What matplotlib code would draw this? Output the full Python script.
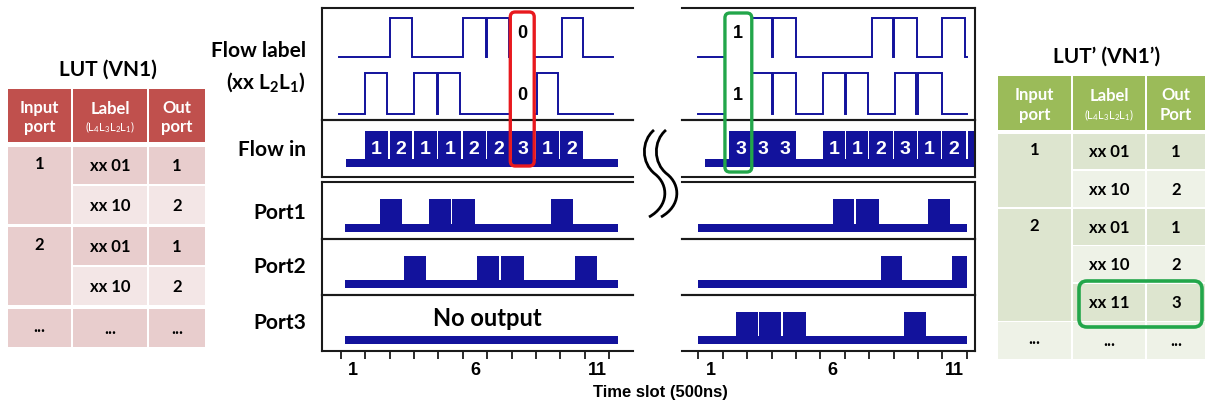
import numpy as np
import matplotlib
matplotlib.use("Agg")
import matplotlib.pyplot as plt
from matplotlib.patches import Rectangle, FancyBboxPatch, PathPatch
from matplotlib.path import Path

plt.rcParams['mathtext.fontset'] = 'custom'
plt.rcParams['mathtext.rm'] = 'Lato'
plt.rcParams['mathtext.bf'] = 'Lato:bold'
plt.rcParams['mathtext.it'] = 'Lato:italic'

W, H = 1205, 406
NAVY = "#12129c"
LABEL_FONT = "Lato"
AX_FONT = "Liberation Sans"

# ---------------- data ----------------
slot_labels = [1, 6, 11]
slot_edges = [0.5, 1.5, 2.5, 3.5, 4.5, 5.5, 6.5, 7.5, 8.5, 9.5, 10.5, 11.5]

# flow in (packet start slot, width, label)
left_packet_start = [1.5, 2.5, 3.5, 4.5, 5.5, 6.5, 7.5, 8.5, 9.5]
left_packet_width = [0.94, 0.94, 0.94, 0.94, 0.94, 0.94, 0.94, 0.94, 0.94]
left_packet_label = ["1", "2", "1", "1", "2", "2", "3", "1", "2"]
right_packet_start = [1.77, 2.72, 3.62, 5.6, 6.55, 7.5, 8.5, 9.5, 10.5, 11.55]
right_packet_width = [0.92, 0.87, 0.88, 0.92, 0.92, 0.96, 0.96, 0.96, 0.96, 0.25]
right_packet_label = ["3", "3", "3", "1", "1", "2", "3", "1", "2", ""]

# flow label bits: intervals where the trace is high
left_L2_high = [(2.5, 3.4), (5.5, 6.45), (6.5, 7.4), (9.55, 10.42)]
left_L1_high = [(1.5, 2.4), (3.5, 4.45), (4.5, 5.4), (8.55, 9.42)]
right_L2_high = [(1.72, 2.65), (2.7, 3.52), (3.57, 4.52), (7.6, 8.47), (8.52, 9.48), (10.5, 11.45)]
right_L1_high = [(1.72, 2.65), (2.7, 3.5), (3.55, 4.52), (5.6, 6.5), (6.55, 7.46),
                 (8.56, 9.44), (9.49, 10.47)]

# output ports: (start, end) of received packets
left_port1 = [(2.1, 3.0), (4.1, 5.0), (5.05, 6.0), (9.1, 10.0)]
left_port2 = [(3.1, 4.0), (6.1, 7.0), (7.05, 8.0), (10.1, 11.0)]
left_port3 = []
right_port1 = [(6.0, 6.9), (6.95, 7.9), (9.93, 10.8)]
right_port2 = [(7.97, 8.84), (10.9, 11.5)]
right_port3 = [(2.05, 2.93), (3.0, 3.9), (3.98, 4.9), (8.94, 9.83)]

# look-up tables
lut_left_title = "LUT (VN1)"
lut_left_in = [(0, 2, "1"), (2, 4, "2"), (4, 5, "...")]
lut_left_label = ["xx 01", "xx 10", "xx 01", "xx 10", "..."]
lut_left_out = ["1", "2", "1", "2", "..."]
lut_left_head = ["Input\nport", "Label", "Out\nport"]

lut_right_title = "LUT\u2019 (VN1\u2019)"
lut_right_in = [(0, 2, "1"), (2, 5, "2"), (5, 6, "...")]
lut_right_label = ["xx 01", "xx 10", "xx 01", "xx 10", "xx 11", "..."]
lut_right_out = ["1", "2", "1", "2", "3", "..."]
lut_right_head = ["Input\nport", "Label", "Out\nPort"]

# ---------------- figure ----------------
fig = plt.figure(figsize=(W / 100, H / 100), dpi=100)


def add_px_axes(x0, y0, x1, y1):
    return fig.add_axes([x0 / W, 1 - y1 / H, (x1 - x0) / W, (y1 - y0) / H])


panel_rows = [(9, 121), (121, 178), (183, 240), (240, 296), (296, 352)]


def make_column(xpx, xlim, open_side):
    axs = []
    for y0, y1 in panel_rows:
        ax = add_px_axes(xpx[0], y0, xpx[1], y1)
        ax.set_xlim(*xlim)
        ax.set_ylim(0, 1)
        ax.patch.set_alpha(0)
        for s in ax.spines.values():
            s.set_linewidth(1.5)
            s.set_color("#1a1a1a")
        ax.spines[open_side].set_visible(False)
        ax.set_xticks([])
        ax.set_yticks([])
        axs.append(ax)
    return axs


axL = make_column((322, 633), (-0.27, 12.48), "right")
axR = make_column((682, 975), (-0.17, 11.84), "left")


def draw_label_trace(ax, span, highs, low, high):
    xs, ys = [span[0]], [low]
    for a, b in highs:
        xs += [a, a, b, b]
        ys += [low, high, high, low]
    xs.append(span[1])
    ys.append(low)
    ax.plot(xs, ys, color=NAVY, lw=1.4, solid_joinstyle="miter")


def draw_packets(ax, span, blocks, base, body):
    ax.broken_barh([(span[0], span[1] - span[0])], base, color=NAVY, lw=0, zorder=3)
    if blocks:
        ax.broken_barh([(a, b - a) for a, b in blocks], body, color=NAVY, lw=0, zorder=2)


def draw_flow_in(ax, span, starts, widths, labels):
    blocks = [(s, s + w) for s, w in zip(starts, widths)]
    draw_packets(ax, span, blocks, (0.17, 0.15), (0.2, 0.61))
    for s, w, lab in zip(starts, widths, labels):
        ax.text(s + w / 2, 0.5, lab, color="white", fontsize=14, fontweight="bold",
                family=AX_FONT, ha="center", va="center", zorder=4)


# left column
draw_label_trace(axL[0], (0.43, 11.66), left_L2_high, 0.56, 0.91)
draw_label_trace(axL[0], (0.43, 11.66), left_L1_high, 0.055, 0.42)
draw_flow_in(axL[1], (0.7, 11.85), left_packet_start, left_packet_width, left_packet_label)
for ax, blocks in zip(axL[2:], [left_port1, left_port2, left_port3]):
    draw_packets(ax, (0.67, 11.86), blocks, (0.12, 0.14), (0.15, 0.55))
axL[4].text(0.53, 0.6, "No output", transform=axL[4].transAxes, fontsize=17,
            fontweight="bold", family=LABEL_FONT, ha="center", va="center")

# right column
draw_label_trace(axR[0], (0.5, 11.53), right_L2_high, 0.56, 0.91)
draw_label_trace(axR[0], (0.5, 11.53), right_L1_high, 0.055, 0.42)
draw_flow_in(axR[1], (0.77, 11.8), right_packet_start, right_packet_width, right_packet_label)
for ax, blocks in zip(axR[2:], [right_port1, right_port2, right_port3]):
    draw_packets(ax, (0.5, 11.53), blocks, (0.12, 0.14), (0.15, 0.55))

for ax in (axL[4], axR[4]):
    ax.set_xticks(slot_edges)
    ax.set_xticklabels([])
    ax.tick_params(axis="x", which="major", direction="out", length=6, width=1.3, color="#1a1a1a")
    ax.set_xticks(slot_labels, minor=True)
    ax.set_xticklabels([str(v) for v in slot_labels], minor=True)
    ax.tick_params(axis="x", which="minor", length=0, pad=7, labelsize=13)
    for t in ax.get_xticklabels(minor=True):
        t.set_fontweight("bold")
        t.set_family(AX_FONT)

fig.text(660 / W, 1 - 393 / H, "Time slot (500ns)", fontsize=12, fontweight="bold",
         family=AX_FONT, ha="center", va="center")

# row labels
row_text = [("Flow label", 51), ("(xx L$_\\mathbf{2}$L$_\\mathbf{1}$)", 82), ("Flow in", 150),
            ("Port1", 213), ("Port2", 267), ("Port3", 323)]
for txt, ypx in row_text:
    fig.text(306 / W, 1 - ypx / H, txt, fontsize=15, fontweight="bold", family=LABEL_FONT,
             ha="right", va="center")

# ---------------- overlay (pixel coordinates) ----------------
ov = fig.add_axes([0, 0, 1, 1])
ov.set_xlim(0, W)
ov.set_ylim(H, 0)
ov.axis("off")
ov.patch.set_alpha(0)


def slot_px(ax, slot):
    return ax.transData.transform((slot, 0))[0]


def highlight(ax, s0, s1, y0, y1, color, bits):
    x0, x1 = slot_px(ax, s0), slot_px(ax, s1)
    ov.add_patch(Rectangle((x0, y0), x1 - x0, 119 - y0, facecolor="white", lw=0))
    for b, ypx in zip(bits, (34, 95)):
        ov.text((x0 + x1) / 2, ypx, b, fontsize=13, fontweight="bold", family=AX_FONT,
                ha="center", va="center")
    ov.add_patch(FancyBboxPatch((x0, y0), x1 - x0, y1 - y0,
                                boxstyle="round,pad=0,rounding_size=5",
                                fill=False, edgecolor=color, lw=2.4))


highlight(axL[0], 7.45, 8.43, 13, 167, "#e8191e", ["0", "0"])
highlight(axR[0], 1.59, 2.69, 14, 173, "#22a64a", ["1", "1"])

# axis break mark
for dx in (0, 12):
    verts = [(654 + dx, 131), (641 + dx, 142), (641 + dx, 164), (655 + dx, 175),
             (669 + dx, 186), (669 + dx, 207), (649 + dx, 218)]
    codes = [Path.MOVETO] + [Path.CURVE4] * 6
    ov.add_patch(PathPatch(Path(verts, codes), fill=False, edgecolor="black", lw=2))


def draw_lut(cols, head_y, rows_y, in_groups, labels, outs, heads, title, title_xy,
             head_color, dark, light):
    ov.text(title_xy[0], title_xy[1], title, fontsize=15, fontweight="bold",
            family=LABEL_FONT, ha="center", va="center")
    hmid = (head_y[0] + head_y[1]) / 2
    for (c0, c1), h in zip(cols, heads):
        ov.add_patch(Rectangle((c0, head_y[0]), c1 - c0, head_y[1] - head_y[0],
                               facecolor=head_color, lw=0))
        cx = (c0 + c1) / 2
        if h == "Label":
            ov.text(cx, hmid - 8, h, fontsize=12, fontweight="bold", family=LABEL_FONT,
                    color="white", ha="center", va="center")
            ov.text(cx, hmid + 11, "(L$_4$L$_3$L$_2$L$_1$)", fontsize=8, family=LABEL_FONT,
                    color="white", ha="center", va="center")
        else:
            ov.text(cx, hmid + 1, h, fontsize=12, fontweight="bold", family=LABEL_FONT,
                    color="white", ha="center", va="center", linespacing=1.25)
    for i, (lab, out) in enumerate(zip(labels, outs)):
        r0, r1 = rows_y[i]
        fc = dark if i % 2 == 0 else light
        for (c0, c1), txt in zip(cols[1:], (lab, out)):
            ov.add_patch(Rectangle((c0, r0), c1 - c0, r1 - r0, facecolor=fc, lw=0))
            ov.text((c0 + c1) / 2, (r0 + r1) / 2, txt, fontsize=12, fontweight="bold",
                    family=LABEL_FONT, ha="center", va="center")
    c0, c1 = cols[0]
    for g0, g1, txt in in_groups:
        r0, r1 = rows_y[g0][0], rows_y[g1 - 1][1]
        fc = dark if g0 % 2 == 0 else light
        ov.add_patch(Rectangle((c0, r0), c1 - c0, r1 - r0, facecolor=fc, lw=0))
        ov.text((c0 + c1) / 2, sum(rows_y[g0]) / 2 - 2, txt, fontsize=12, fontweight="bold",
                family=LABEL_FONT, ha="center", va="center")


draw_lut([(8, 71), (73, 147), (149, 205)], (90, 143),
         [(148, 185), (187, 225), (228, 266), (268, 306), (310, 348)],
         lut_left_in, lut_left_label, lut_left_out, lut_left_head,
         lut_left_title, (108, 70), "#c0504d", "#e8cdcd", "#f3e6e6")

draw_lut([(998, 1071), (1073, 1145), (1147, 1205)], (77, 131),
         [(135, 170), (172, 208), (210, 246), (247, 283), (285, 322), (323, 360)],
         lut_right_in, lut_right_label, lut_right_out, lut_right_head,
         lut_right_title, (1107, 57), "#9bbb59", "#dde5cf", "#eef2e7")

ov.add_patch(FancyBboxPatch((1079, 282), 123, 46, boxstyle="round,pad=0,rounding_size=8",
                            fill=False, edgecolor="#22a64a", lw=2.6))

fig.savefig("out.png", dpi=100)
